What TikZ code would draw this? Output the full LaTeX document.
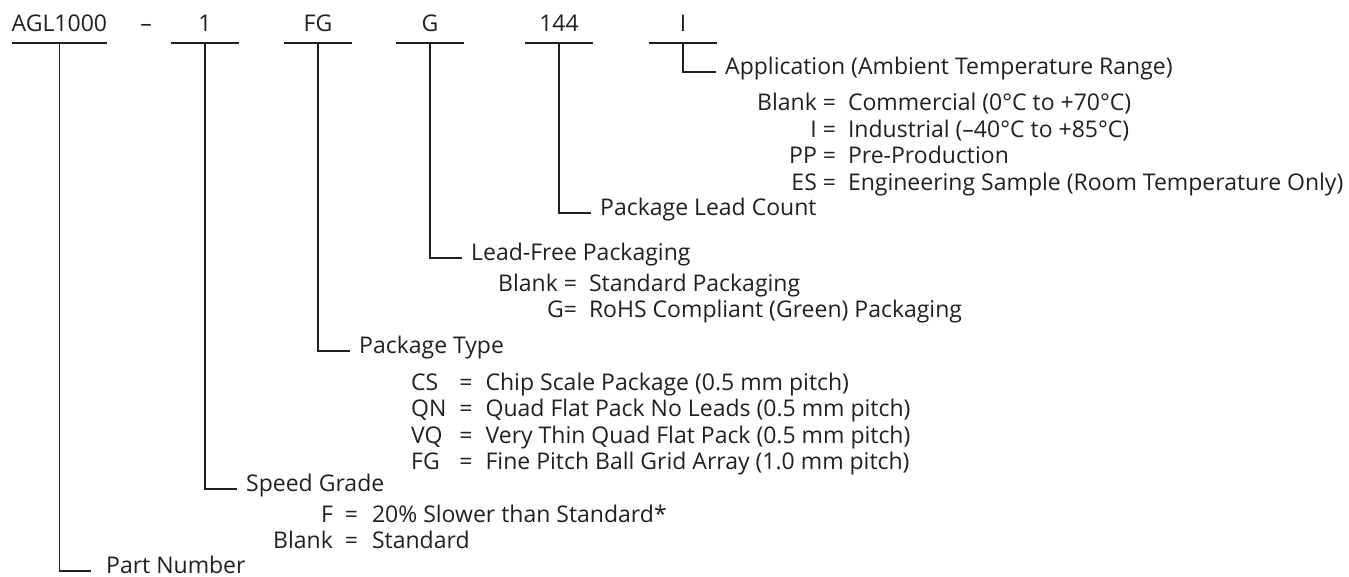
\documentclass[tikz,border=0pt]{standalone}
\usepackage{fontspec}
\setmainfont{Open Sans}
\usetikzlibrary{positioning}
\definecolor{ink}{RGB}{35,31,32}

\begin{document}
\begin{tikzpicture}[x=1pt,y=-1pt,font=\fontsize{23}{26.5}\selectfont,color=ink,
  code/.style={anchor=base,inner xsep=0pt,inner ysep=0pt,text depth=10.5pt,minimum width=68pt},
  lbl/.style={anchor=west,inner xsep=9pt,inner ysep=0pt,text height=0.75em,text depth=0.25em},
  lst/.style={anchor=base west,inner sep=0pt},
  ln/.style={line width=1.7pt}]
\useasboundingbox (0,0) rectangle (1349,577);
\node[code,minimum width=93pt] (pn) at (59.4,32) {AGL1000};
\node[code,minimum width=0pt,text depth=0pt] (dash) at (146,32) {–};
\node[code] (sg) at (205,32) {1};
\node[code] (pt) at (318,32) {FG};
\node[code] (lf) at (430,32) {G};
\node[code] (lc) at (559,32) {144};
\node[code] (ap) at (683,32) {I};
\node[lbl] (lap) at (716,72) {Application (Ambient Temperature Range)};
\node[lbl] (llc) at (591,213) {Package Lead Count};
\node[lbl] (llf) at (462,258) {Lead-Free Packaging};
\node[lbl] (lpt) at (350,351) {Package Type};
\node[lbl] (lsg) at (237,489) {Speed Grade};
\node[lbl,inner xsep=15pt] (lpn) at (91,571) {Part Number};
\node[lst] (vap) at (757,111) {\begin{tabular}[t]{@{}r@{\hspace{12pt}}l@{}}Blank =&Commercial (0°C to +70°C)\\I =&Industrial (–40°C to +85°C)\\PP =&Pre-Production\\ES =&Engineering Sample (Room Temperature Only)\end{tabular}};
\node[lst] (vlf) at (498,291) {\begin{tabular}[t]{@{}r@{\hspace{12pt}}l@{}}Blank =&Standard Packaging\\G=&RoHS Compliant (Green) Packaging\end{tabular}};
\node[lst] (vpt) at (411,390) {\begin{tabular}[t]{@{}l@{\hspace{13pt}}c@{\hspace{13pt}}l@{}}CS&=&Chip Scale Package (0.5 mm pitch)\\QN&=&Quad Flat Pack No Leads (0.5 mm pitch)\\VQ&=&Very Thin Quad Flat Pack (0.5 mm pitch)\\FG&=&Fine Pitch Ball Grid Array (1.0 mm pitch)\end{tabular}};
\node[lst] (vsg) at (273,522) {\begin{tabular}[t]{@{}r@{\hspace{12pt}}c@{\hspace{14pt}}l@{}}F&=&20\% Slower than Standard*\\Blank&=&Standard\end{tabular}};
\foreach \c in {pn,sg,pt,lf,lc,ap} \draw[ln] (\c.south west) -- (\c.south east);
\draw[ln] (ap.south) |- (lap.west);
\draw[ln] (lc.south) |- (llc.west);
\draw[ln] (lf.south) |- (llf.west);
\draw[ln] (pt.south) |- (lpt.west);
\draw[ln] (sg.south) |- (lsg.west);
\draw[ln] (pn.south) |- (lpn.west);
\end{tikzpicture}
\end{document}
